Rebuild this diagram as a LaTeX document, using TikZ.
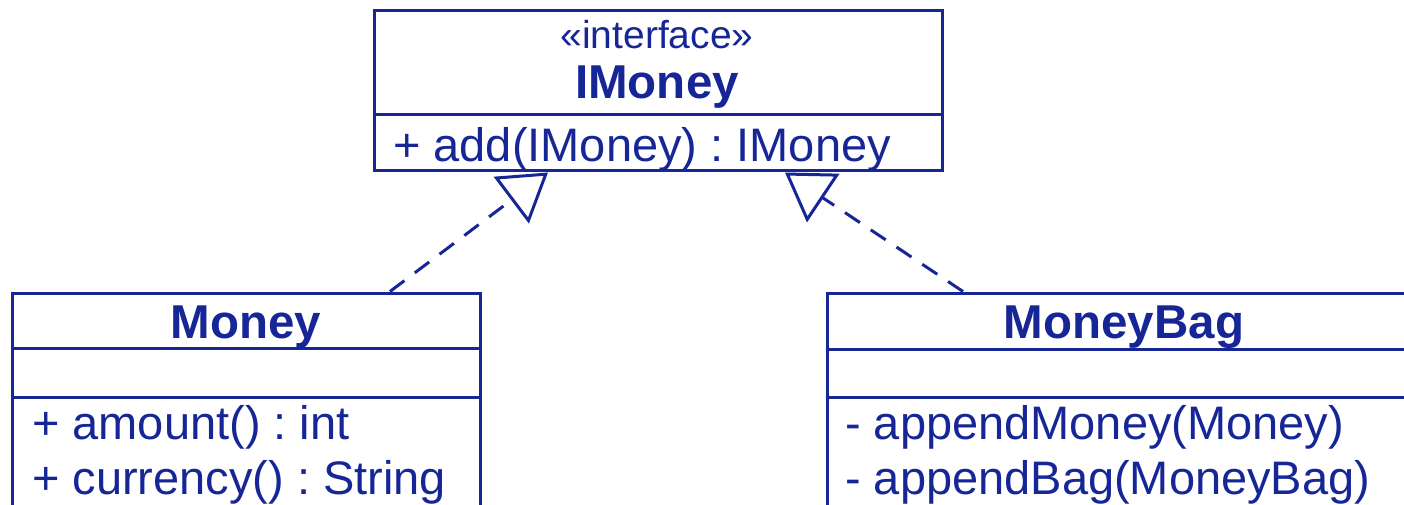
\documentclass[tikz,border=0pt]{standalone}
\usepackage{fontspec}
\setmainfont{Liberation Sans}
\usepackage{xcolor}
\usetikzlibrary{arrows.meta}
\definecolor{umlblue}{RGB}{22,38,150}
\frenchspacing

\begin{document}
\begin{tikzpicture}[x=1pt,y=-1pt,
        classbox/.style={draw=umlblue, line width=3pt, inner sep=0pt},
        divider/.style={draw=umlblue, line width=3pt},
        member/.style={text=umlblue, inner sep=0pt, font=\fontsize{47}{55}\selectfont},
        title/.style={member, font=\fontsize{47.5}{55}\selectfont\bfseries},
        stereo/.style={member, font=\fontsize{39}{45}\selectfont},
        realizes/.style={draw=umlblue, line width=3pt, dash pattern=on 18pt off 13pt,
            -{Triangle[open, length=46pt, width=58pt]}}]
                \useasboundingbox (0,0) rectangle (1404,505);
                \clip (0,0) rectangle (1404,505);
                % interface
                \node[classbox, minimum width=568pt, minimum height=160pt] (imoney) at (658,91) {};
                \draw[divider] (imoney.west |- 0,115) -- (imoney.east |- 0,115);
                \node[stereo, anchor=base] (imoneystereo) at (657,49) {«interface»};
                \node[title, anchor=base] (imoneyname) at (657,99) {IMoney};
                \node[member, anchor=base west] (imoneyadd) at (393,162) {+ add(IMoney) : IMoney};
                % Money
                \node[classbox, minimum width=468pt, minimum height=240pt] (money) at (246,413) {};
                \draw[divider] (money.west |- 0,348) -- (money.east |- 0,348);
                \draw[divider] (money.west |- 0,397) -- (money.east |- 0,397);
                \node[title, anchor=base] (moneyname) at (246,338) {Money};
                \node[member, anchor=base west] (moneyamount) at (32,439) {+ amount() : int};
                \node[member, anchor=base west] (moneycurrency) at (32,494) {+ currency() : String};
                % MoneyBag
                \node[classbox, minimum width=594pt, minimum height=240pt] (moneybag) at (1124,413) {};
                \draw[divider] (moneybag.west |- 0,349) -- (moneybag.east |- 0,349);
                \draw[divider] (moneybag.west |- 0,397) -- (moneybag.east |- 0,397);
                \node[title, anchor=base] (moneybagname) at (1124,338) {MoneyBag};
                \node[member, anchor=base west] (bagappendmoney) at (845,439) {- appendMoney(Money)};
                \node[member, anchor=base west] (bagappendbag) at (845,494) {- appendBag(MoneyBag)};
                % realizations
                \draw[realizes] ([xshift=144pt]money.north) -- ([xshift=-110pt]imoney.south);
                \draw[realizes] ([xshift=-161pt]moneybag.north) -- ([xshift=127pt]imoney.south);
            \end{tikzpicture}
\end{document}
